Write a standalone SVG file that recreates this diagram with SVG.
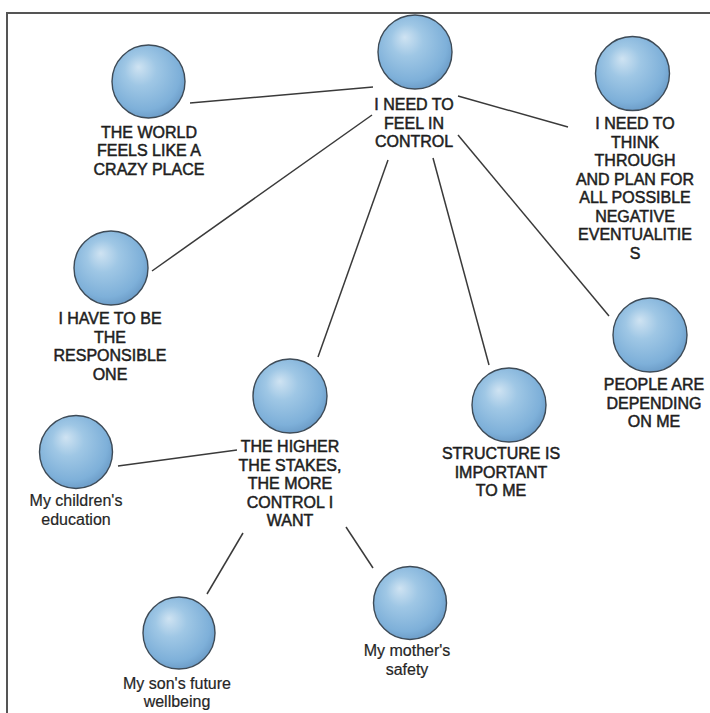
<svg xmlns="http://www.w3.org/2000/svg" width="710" height="713" viewBox="0 0 710 713">
  <defs>
    <radialGradient id="ball" cx="0.45" cy="0.42" r="0.62" fx="0.36" fy="0.3">
      <stop offset="0" stop-color="#cfe3f2"/>
      <stop offset="0.35" stop-color="#9fc7e5"/>
      <stop offset="0.8" stop-color="#7eb0d9"/>
      <stop offset="1" stop-color="#6898c4"/>
    </radialGradient>
    <style>
      .frame { fill: none; stroke: #555; stroke-width: 2; }
      .link { stroke: #3a3a3a; stroke-width: 1.5; fill: none; }
      .ball { fill: url(#ball); stroke: #3e4b57; stroke-width: 1.4; }
      .cap { font-family: "Liberation Sans", Arial, sans-serif; font-size: 16px; fill: #1e1e1e; stroke: #1e1e1e; stroke-width: 0.5; text-anchor: middle; }
      .low { font-family: "Liberation Sans", Arial, sans-serif; font-size: 16px; fill: #262626; stroke: #262626; stroke-width: 0.2; text-anchor: middle; }
    </style>
  </defs>

  <rect width="710" height="713" fill="#ffffff"/>
  <path class="frame" d="M7,713 V13 H710"/>

  <g id="connectors">
    <line class="link" x1="190" y1="103" x2="373" y2="87"/>
    <line class="link" x1="458" y1="96" x2="568" y2="127"/>
    <line class="link" x1="152" y1="271" x2="372" y2="115"/>
    <line class="link" x1="388" y1="160" x2="318" y2="357"/>
    <line class="link" x1="433" y1="158" x2="489" y2="365"/>
    <line class="link" x1="458" y1="135" x2="609" y2="316"/>
    <line class="link" x1="118" y1="466" x2="237" y2="450"/>
    <line class="link" x1="207" y1="594" x2="243" y2="533"/>
    <line class="link" x1="346" y1="527" x2="373" y2="568"/>
  </g>

  <g id="node-control">
    <circle class="ball" cx="415" cy="52" r="37"/>
    <text class="cap"><tspan x="414" y="110">I NEED TO</tspan><tspan x="414" y="128.5">FEEL IN</tspan><tspan x="414" y="147">CONTROL</tspan></text>
  </g>

  <g id="node-world">
    <circle class="ball" cx="148.5" cy="81.5" r="36.5"/>
    <text class="cap"><tspan x="149" y="137.5">THE WORLD</tspan><tspan x="149" y="156">FEELS LIKE A</tspan><tspan x="149" y="174.5">CRAZY PLACE</tspan></text>
  </g>

  <g id="node-think">
    <circle class="ball" cx="632.5" cy="73.5" r="37"/>
    <text class="cap"><tspan x="635" y="129">I NEED TO</tspan><tspan x="635" y="147.5">THINK</tspan><tspan x="635" y="166">THROUGH</tspan><tspan x="635" y="184.5">AND PLAN FOR</tspan><tspan x="635" y="203">ALL POSSIBLE</tspan><tspan x="635" y="221.5">NEGATIVE</tspan><tspan x="635" y="240">EVENTUALITIE</tspan><tspan x="635" y="258.5">S</tspan></text>
  </g>

  <g id="node-responsible">
    <circle class="ball" cx="111" cy="268" r="37"/>
    <text class="cap"><tspan x="110" y="324">I HAVE TO BE</tspan><tspan x="110" y="342.5">THE</tspan><tspan x="110" y="361">RESPONSIBLE</tspan><tspan x="110" y="379.5">ONE</tspan></text>
  </g>

  <g id="node-stakes">
    <circle class="ball" cx="290" cy="396" r="37"/>
    <text class="cap"><tspan x="290" y="452">THE HIGHER</tspan><tspan x="290" y="470.5">THE STAKES,</tspan><tspan x="290" y="489">THE MORE</tspan><tspan x="290" y="507.5">CONTROL I</tspan><tspan x="290" y="526">WANT</tspan></text>
  </g>

  <g id="node-structure">
    <circle class="ball" cx="509" cy="405" r="37"/>
    <text class="cap"><tspan x="501" y="459">STRUCTURE IS</tspan><tspan x="501" y="477.5">IMPORTANT</tspan><tspan x="501" y="496">TO ME</tspan></text>
  </g>

  <g id="node-people">
    <circle class="ball" cx="650" cy="335" r="37"/>
    <text class="cap"><tspan x="654" y="390">PEOPLE ARE</tspan><tspan x="654" y="408.5">DEPENDING</tspan><tspan x="654" y="427">ON ME</tspan></text>
  </g>

  <g id="node-children">
    <circle class="ball" cx="76" cy="452" r="36.5"/>
    <text class="low"><tspan x="76" y="506">My children's</tspan><tspan x="76" y="525">education</tspan></text>
  </g>

  <g id="node-son">
    <circle class="ball" cx="179" cy="633" r="36"/>
    <text class="low"><tspan x="177" y="689">My son's future</tspan><tspan x="177" y="707">wellbeing</tspan></text>
  </g>

  <g id="node-mother">
    <circle class="ball" cx="410" cy="603" r="36.5"/>
    <text class="low"><tspan x="407" y="656">My mother's</tspan><tspan x="407" y="675">safety</tspan></text>
  </g>
</svg>
